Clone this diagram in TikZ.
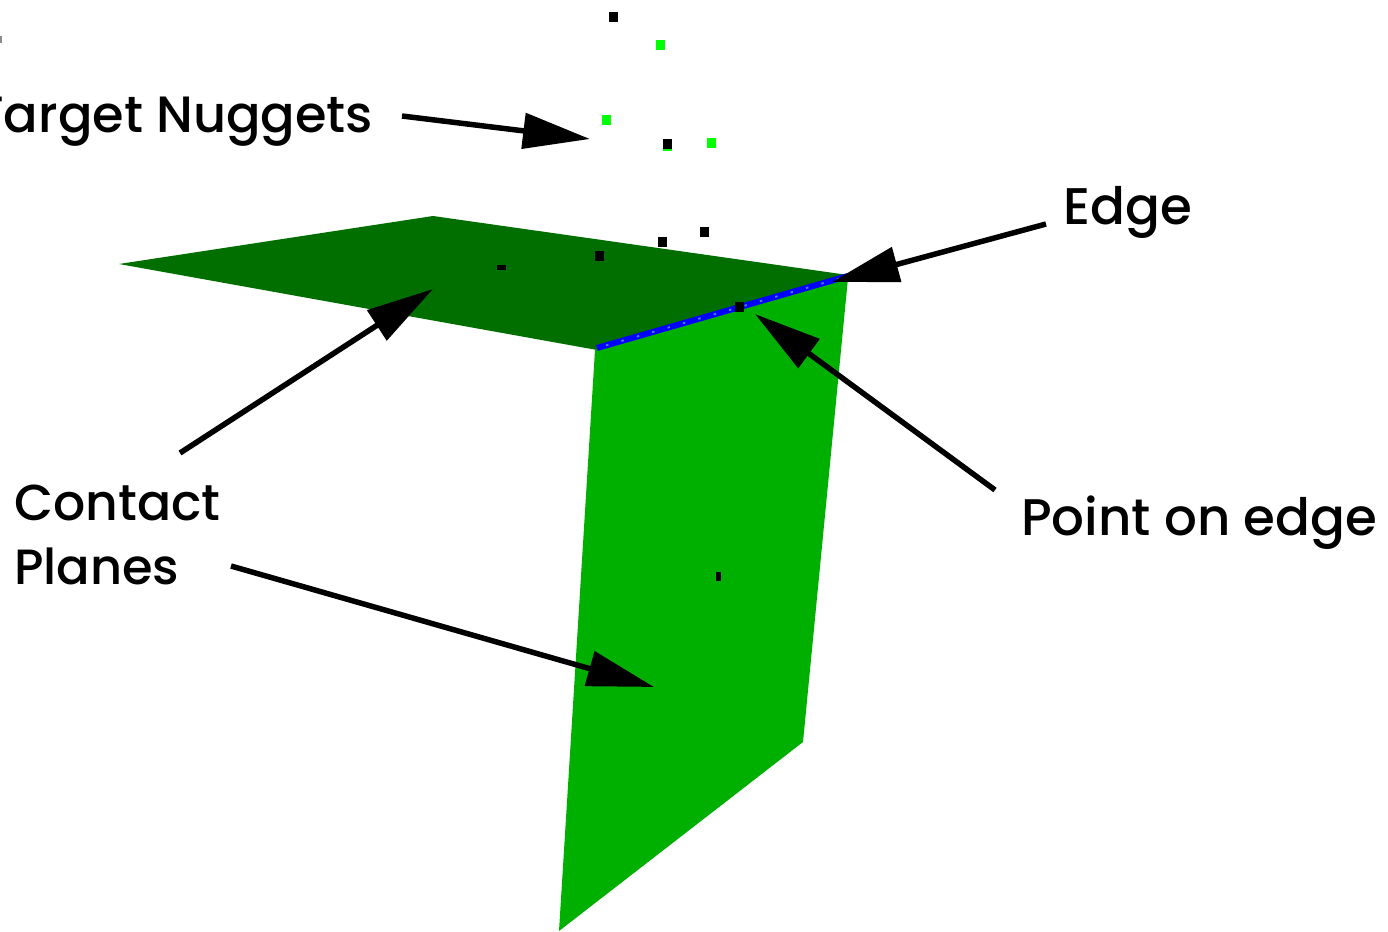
\documentclass[tikz,border=0pt]{standalone}
\usepackage{fontspec}
\newfontfamily\lblfont{Poppins Medium}
\usetikzlibrary{arrows.meta}
\definecolor{darkplane}{HTML}{006F00}
\definecolor{lightplane}{HTML}{00B000}
\definecolor{nugget}{HTML}{00FF00}
\definecolor{ringhole}{HTML}{4A7FD0}
\tikzset{x=1pt,y=-1pt,
 lbl/.style={font=\lblfont\fontsize{#1}{#1}\selectfont,text=black,inner sep=0pt,anchor=base west},
 lbl/.default=51.5,
 callout/.style={line width=5.5pt,-{Triangle[length=67pt,width=35pt]}},
 dot/.style={fill=#1,minimum width=9pt,minimum height=10pt,inner sep=0pt,draw=none}}
\begin{document}
\begin{tikzpicture}
\useasboundingbox (0,0) rectangle (1388,931);
\fill[darkplane] (119,264) -- (433,216) -- (848,275) -- (597,350) -- cycle;
\fill[lightplane] (595,350) -- (848,278) -- (803,742) -- (559,931) -- cycle;
\draw[blue,line width=6pt] (597,348) -- (848,276);
\draw[ringhole,line width=1.8pt,dash pattern=on 2.5pt off 13.5pt] (606,345.4) -- (848,276);
\fill[black!45] (0,36) rectangle (1.5,43);
\foreach \x/\y in {613/17,704/232,662/242,599/256,739/307}
  \node[dot=black] at (\x,\y) {};
\node[dot=nugget] at (667,146) {};
\node[dot=black] at (667,144) {};
\node[dot=black,minimum width=9pt,minimum height=5pt] at (501,267.5) {};
\node[dot=black,minimum width=5pt,minimum height=9pt] at (718,576) {};
\foreach \x/\y in {660/45,606/120,711/143}
  \node[dot=nugget] at (\x,\y) {};
\node[lbl=51] (tn) at (-25,132) {Target Nuggets};
\node[lbl] (ed) at (1063,224) {Edge};
\node[lbl] (pe) at (1021,535) {Point on edge};
\node[lbl=50.5] (cp) at (14,520) {Contact};
\node[lbl=49.5] (pl) at (14,584) {Planes};
\coordinate (a1s) at (402,116); \coordinate (a1e) at (590,139);
\coordinate (a2s) at (1046,224); \coordinate (a2e) at (832,282);
\coordinate (a3s) at (995,490); \coordinate (a3e) at (755,314);
\coordinate (a4s) at (180,453); \coordinate (a4e) at (433,289);
\coordinate (a5s) at (231,566); \coordinate (a5e) at (654,687);
\draw[callout] (a1s) -- (a1e);
\draw[callout] (a2s) -- (a2e);
\draw[callout] (a3s) -- (a3e);
\draw[callout] (a4s) -- (a4e);
\draw[callout] (a5s) -- (a5e);
\end{tikzpicture}
\end{document}
